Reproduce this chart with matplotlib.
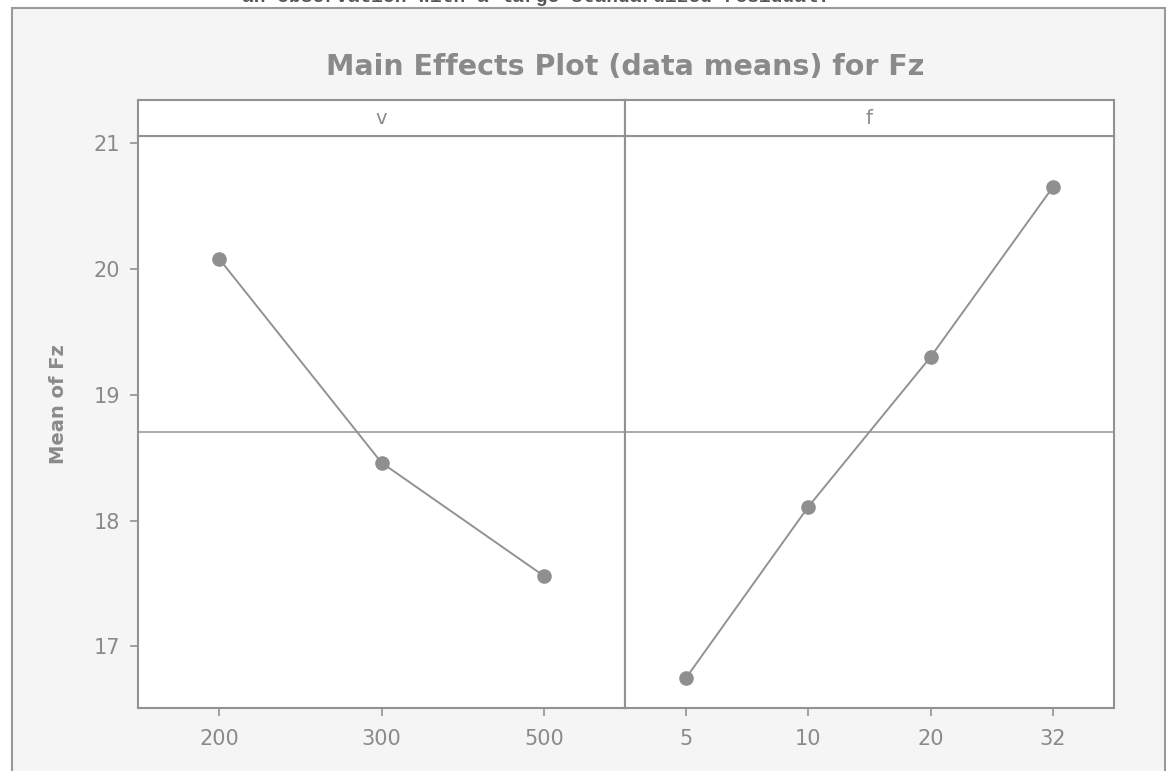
import matplotlib
matplotlib.use('Agg')
import matplotlib.pyplot as plt
from matplotlib.patches import Rectangle

# data means
v_levels = ['200', '300', '500']
v_means = [20.08, 18.46, 17.56]
f_levels = ['5', '10', '20', '32']
f_means = [16.75, 18.11, 19.30, 20.65]
grand_mean = 18.70
y_ticks = [17, 18, 19, 20, 21]

W, H = 1167, 771
grey_txt = '#8a8a8a'
grey_line = '#929292'

fig = plt.figure(figsize=(W / 100, H / 100), dpi=100)
fig.patch.set_facecolor('white')

#outer frame around the whole minitab graph
frame = Rectangle((12 / W, -0.05), (1165 - 12) / W, 1.05 - 8 / H,
                  transform=fig.transFigure, facecolor='#f5f5f5',
                  edgecolor='#9a9a9a', linewidth=1.5, zorder=-10)
fig.patches.append(frame)

# clipped caption line from the page above the graph
fig.text(830 / W, 1 + 3 / H, 'an observation with a large standardized residual.',
         family='Liberation Mono', weight='bold', fontsize=14, color='#555555',
         ha='right', va='center')

fig.text(625 / W, 1 - 67 / H, 'Main Effects Plot (data means) for Fz',
         ha='center', va='center', fontsize=20.5, weight='bold', color=grey_txt)

top, bot, strip_top = 136, 708, 100
ymin, ymax = 16.51, 21.056

panels = [(138, 625, v_levels, v_means, 'v'), (625, 1114, f_levels, f_means, 'f')]
for i, (x0, x1, levels, means, name) in enumerate(panels):
    ax = fig.add_axes([x0 / W, (H - bot) / H, (x1 - x0) / W, (bot - top) / H])
    ax.set_facecolor('white')
    xs = list(range(len(levels)))
    ax.axhline(grand_mean, color='#a5a5a5', linewidth=1.3, zorder=1)
    ax.plot(xs, means, color=grey_line, linewidth=1.4, marker='o',
            markersize=9.5, markerfacecolor='#8f8f8f', markeredgecolor='#8f8f8f', zorder=3)
    ax.set_xlim(-0.5, len(levels) - 0.5)
    ax.set_ylim(ymin, ymax)
    ax.set_xticks(xs)
    ax.set_xticklabels(levels)
    ax.set_yticks(y_ticks)
    if i == 0:
        ax.set_ylabel('Mean of Fz', fontsize=14, weight='bold', color=grey_txt)
        ax.yaxis.set_label_coords((68 - x0) / (x1 - x0), (bot - 404) / (bot - top))
    else:
        ax.tick_params(axis='y', left=False, labelleft=False)
    ax.tick_params(colors=grey_line, labelcolor=grey_txt, labelsize=15,
                   length=6, width=1.2, pad=7)
    ax.tick_params(axis='x', pad=9)
    for s in ax.spines.values():
        s.set_color(grey_line)
        s.set_linewidth(1.5)

    # strip with the factor name
    st = fig.add_axes([x0 / W, (H - top) / H, (x1 - x0) / W, (top - strip_top) / H])
    st.set_facecolor('white')
    st.set_xticks([])
    st.set_yticks([])
    for s in st.spines.values():
        s.set_color(grey_line)
        s.set_linewidth(1.5)
    st.text(0.5, 0.5, name, ha='center', va='center', fontsize=14,
            color=grey_txt, transform=st.transAxes)

fig.savefig('out.png', dpi=100)
